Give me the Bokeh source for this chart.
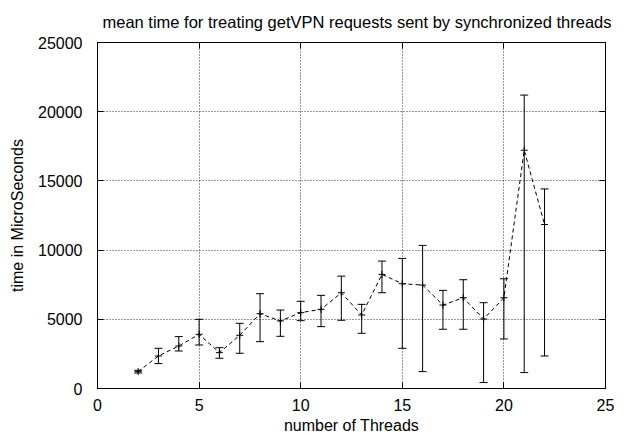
from bokeh.plotting import figure
from bokeh.models import (ColumnDataSource, Range1d, LinearAxis, Whisker, TeeHead,
                          SingleIntervalTicker, Title, CustomJSTickFormatter)
from bokeh.embed import file_html
from bokeh.resources import INLINE

threads = [2, 3, 4, 5, 6, 7, 8, 9, 10, 11, 12, 13, 14, 15, 16, 17, 18, 19, 20, 21, 22]
mean_us = [1220, 2350, 3070, 3915, 2590, 3845, 5405, 4880, 5480, 5720, 6920, 5310,
           8245, 7570, 7475, 6030, 6560, 5020, 6560, 17215, 11850]
upper_us = [1320, 2905, 3750, 5000, 2950, 4710, 6850, 5670, 6300, 6730, 8120, 6080,
            9205, 9400, 10340, 7090, 7860, 6200, 7930, 21200, 14420]
lower_us = [1120, 1800, 2710, 3145, 2185, 2545, 3385, 3770, 4900, 4470, 4930, 3990,
            6920, 2905, 1220, 4280, 4280, 430, 3580, 1150, 2350]

title_text = "mean time for treating getVPN requests sent by synchronized threads"
x_label = "number of Threads"
y_label = "time in MicroSeconds"

FONT = "Liberation Sans"

src = ColumnDataSource(dict(x=threads, y=mean_us, hi=upper_us, lo=lower_us))

p = figure(width=617, height=436, output_backend="svg", toolbar_location=None,
           x_range=Range1d(0, 25), y_range=Range1d(0, 25000),
           min_border_left=97, min_border_right=12, min_border_top=42, min_border_bottom=48,
           x_axis_label=x_label, y_axis_label=y_label)

p.title = Title(text=title_text, align="left", text_font=FONT, text_font_size="16.5px",
                text_font_style="normal", text_color="black", offset=5, standoff=16)

p.background_fill_color = "white"
p.border_fill_color = "white"
p.outline_line_color = "black"
p.outline_line_width = 1

for ax in (p.xaxis[0], p.yaxis[0]):
    ax.axis_line_color = "black"
    ax.major_tick_line_color = "black"
    ax.minor_tick_line_color = None
    ax.major_tick_in = 6
    ax.major_tick_out = 0
    ax.major_label_text_font = FONT
    ax.major_label_text_font_size = "16px"
    ax.major_label_text_color = "black"
    ax.axis_label_text_font = FONT
    ax.axis_label_text_font_size = "16px"
    ax.axis_label_text_font_style = "normal"
    ax.axis_label_text_color = "black"

p.xaxis[0].ticker = SingleIntervalTicker(interval=5)
p.yaxis[0].ticker = SingleIntervalTicker(interval=5000)
p.xaxis[0].major_label_standoff = 6
p.xaxis[0].axis_label_standoff = 3
p.yaxis[0].major_label_standoff = 11
p.yaxis[0].axis_label_standoff = 9

blank = CustomJSTickFormatter(code="return '';")
# mirrored ticks on top and right
top_ax = LinearAxis(ticker=SingleIntervalTicker(interval=5), formatter=blank,
                    major_label_standoff=0,
                    major_tick_in=6, major_tick_out=0, minor_tick_line_color=None,
                    axis_line_color="black", major_tick_line_color="black")
right_ax = LinearAxis(ticker=SingleIntervalTicker(interval=5000), formatter=blank,
                      major_label_standoff=0,
                      major_tick_in=6, major_tick_out=0, minor_tick_line_color=None,
                      axis_line_color="black", major_tick_line_color="black")
p.add_layout(top_ax, "above")
p.add_layout(right_ax, "right")

p.xgrid.ticker = SingleIntervalTicker(interval=5)
p.ygrid.ticker = SingleIntervalTicker(interval=5000)
for g in (p.xgrid[0], p.ygrid[0]):
    g.grid_line_color = "black"
    g.grid_line_dash = "1 2"
    g.grid_line_width = 1
    g.grid_line_alpha = 0.8

p.line("x", "y", source=src, line_color="black", line_dash="4 3", line_width=1)

wh = Whisker(source=src, base="x", upper="hi", lower="lo", dimension="height",
             line_color="black", line_width=1,
             upper_head=TeeHead(size=8, line_color="black", line_width=1),
             lower_head=TeeHead(size=8, line_color="black", line_width=1))
p.add_layout(wh)

p.scatter("x", "y", source=src, marker="cross", size=7, line_color="black", line_width=1)

open("out.html", "w").write(file_html(p, INLINE))
